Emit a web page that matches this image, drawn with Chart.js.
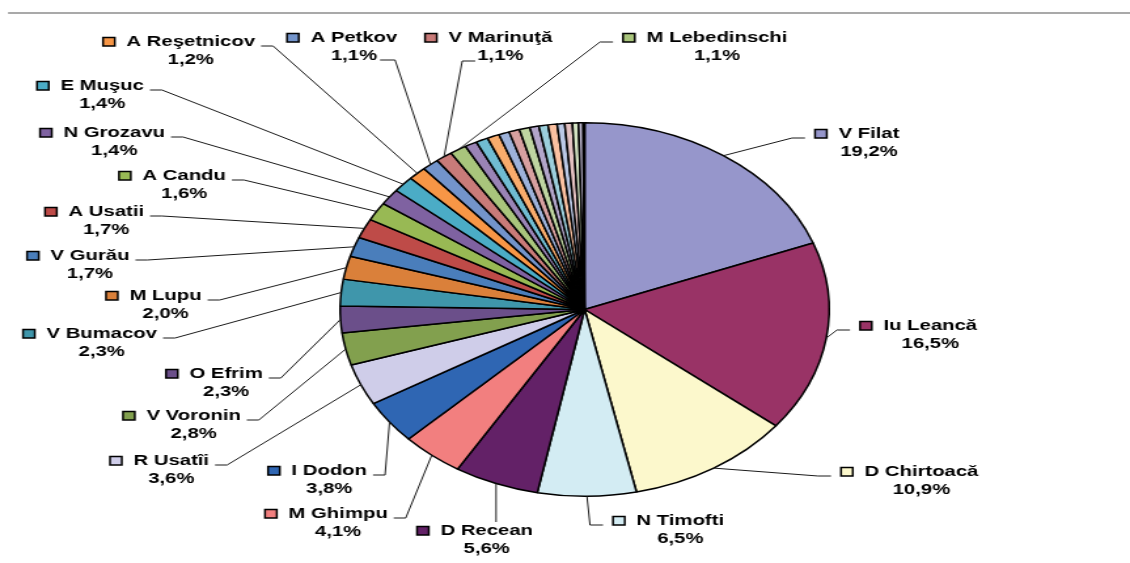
<!DOCTYPE html>
<html>
<head>
<meta charset="utf-8">
<script src="https://cdn.jsdelivr.net/npm/chart.js@4.4.0/dist/chart.umd.min.js"></script>
<style>
  html, body { margin: 0; padding: 0; background: #fff; overflow: hidden; }
  /* the chart is drawn narrow and stretched sideways, so the pie comes out oval */
  #wrap { width: 863px; height: 563px; transform: scaleX(1.30939); transform-origin: 0 0; }
</style>
</head>
<body>
<div id="wrap"><canvas id="grafic" width="863" height="563"></canvas></div>
<script>
// ============================
// DATE
// ============================
const candidati = [
  "V Filat", "Iu Leancă", "D Chirtoacă", "N Timofti", "D Recean", "M Ghimpu",
  "I Dodon", "R Usatîi", "V Voronin", "O Efrim", "V Bumacov", "M Lupu",
  "V Gurău", "A Usatii", "A Candu", "N Grozavu", "E Muşuc", "A Reşetnicov",
  "A Petkov", "V Marinuţă", "M Lebedinschi",
  "", "", "", "", "", "", "", "", "", "", "", "", "", ""
];
const procente = [
  19.2, 16.5, 10.9, 6.5, 5.6, 4.1,
  3.8, 3.6, 2.8, 2.3, 2.3, 2.0,
  1.7, 1.7, 1.6, 1.4, 1.4, 1.2,
  1.1, 1.1, 1.1,
  0.8, 0.8, 0.8, 0.7, 0.7, 0.7, 0.6, 0.6, 0.6, 0.5, 0.5, 0.4, 0.3, 0.1
];
const culori = [
  "#9696CB", "#993366", "#FCF8CC", "#D3ECF3", "#632167", "#F27F7F",
  "#2F66B3", "#CFCDE9", "#82A04E", "#6B4F8A", "#3F96AB", "#DA803A",
  "#4A7EBB", "#BE4B48", "#98B954", "#7F62A1", "#4BACC6", "#F79646",
  "#7394CB", "#C97B79", "#A9C57C",
  "#9A84B6", "#70BCD2", "#F9AC6C", "#9DB2DA", "#D7A0A0", "#BFD5A1", "#B3A6CA",
  "#9CCFDC", "#FBC1A1", "#BBC9E6", "#E5C2C2", "#D4E4C3", "#C9C2DB", "#A0A0A0"
];

// pozitia etichetelor (pe pagina): stanga patratelului, mijlocul primului rand, tipul legaturii
const pozitii = [
  [815, 134, "R"], [860, 326, "R"], [841, 472, "R"], [613, 521, "R"],
  [417, 531, "T"], [265, 514, "L"], [268, 471, "L"], [110, 461, "L"],
  [123, 416, "L"], [166, 374, "L"], [23, 334, "L"], [106, 296, "L"],
  [27, 256, "L"], [45, 212, "L"], [119, 176, "L"], [40, 133, "L"],
  [37, 86, "L"], [103, 42, "L"], [287, 38, "Lp"], [425, 38, "Rp"],
  [623, 38, "R"]
];

const S = 1130 / 863;
const FONT = "bold 15.5px 'Liberation Sans', Arial, sans-serif";

function fmt(v) {
  return v.toFixed(1).replace(".", ",") + "%";
}

// ============================
// ETICHETE CU LINII
// ============================
const etichete = {
  id: "etichete",
  beforeDraw(chart) {
    const ctx = chart.ctx;
    ctx.save();
    ctx.strokeStyle = "#8c8c8c";
    ctx.lineWidth = 1.5;
    ctx.beginPath();
    ctx.moveTo(8 / S, 13);
    ctx.lineTo(chart.width, 13);
    ctx.stroke();
    ctx.restore();
  },
  afterDatasetsDraw(chart) {
    const ctx = chart.ctx;
    const meta = chart.getDatasetMeta(0);
    ctx.save();
    ctx.font = FONT;
    ctx.textBaseline = "middle";
    ctx.textAlign = "left";

    pozitii.forEach((p, i) => {
      const [px, py, tip] = p;
      const arc = meta.data[i];
      const { x, y, startAngle, endAngle, outerRadius } =
        arc.getProps(["x", "y", "startAngle", "endAngle", "outerRadius"], true);
      const mid = (startAngle + endAngle) / 2;
      const ex = x + Math.cos(mid) * outerRadius;
      const ey = y + Math.sin(mid) * outerRadius;

      const sx = px / S;
      const tx = sx + 23.5 / S;
      const nume = candidati[i];
      const proc = fmt(procente[i]);
      const tw = ctx.measureText(nume).width;
      const pw = ctx.measureText(proc).width;
      const cx = tx + tw / 2;

      // linia de legatura
      ctx.strokeStyle = "#1a1a1a";
      ctx.lineWidth = 1;
      ctx.beginPath();
      if (tip === "R") {
        const h1 = sx - 10 / S, h0 = h1 - 13 / S, hy = py + 4;
        ctx.moveTo(ex, ey); ctx.lineTo(h0, hy); ctx.lineTo(h1, hy);
      } else if (tip === "L") {
        const h0 = tx + tw + 6 / S, h1 = h0 + 12 / S, hy = py + 4;
        ctx.moveTo(h0, hy); ctx.lineTo(h1, hy); ctx.lineTo(ex, ey);
      } else if (tip === "Lp") {
        const h0 = cx + pw / 2 + 3 / S, h1 = h0 + 15 / S, hy = py + 22;
        ctx.moveTo(h0, hy); ctx.lineTo(h1, hy); ctx.lineTo(ex, ey);
      } else if (tip === "Rp") {
        const h1 = cx - pw / 2 - 2 / S, h0 = h1 - 13 / S, hy = py + 23;
        ctx.moveTo(ex, ey); ctx.lineTo(h0, hy); ctx.lineTo(h1, hy);
      } else {
        ctx.moveTo(ex, ey); ctx.lineTo(ex, py - 9);
      }
      ctx.stroke();

      // patratelul cu culoarea feliei
      ctx.fillStyle = culori[i];
      ctx.fillRect(sx, py - 4.5, 9, 8.5);
      ctx.strokeStyle = "#000";
      ctx.lineWidth = 1.5;
      ctx.strokeRect(sx, py - 4.5, 9, 8.5);

      // textul
      ctx.fillStyle = "#000";
      ctx.fillText(nume, tx, py);
      ctx.textAlign = "center";
      ctx.fillText(proc, cx, py + 18);
      ctx.textAlign = "left";
    });
    ctx.restore();
  }
};

// ============================
// GRAFIC
// ============================
new Chart(document.getElementById("grafic"), {
  type: "pie",
  data: {
    labels: candidati,
    datasets: [{
      data: procente,
      backgroundColor: culori,
      borderColor: "#000",
      borderWidth: 1.5
    }]
  },
  options: {
    responsive: false,
    devicePixelRatio: 1,
    animation: false,
    events: [],
    layout: { padding: { left: 259, right: 229, top: 122, bottom: 66 } },
    plugins: {
      legend: { display: false },
      tooltip: { enabled: false }
    }
  },
  plugins: [etichete]
});
</script>
</body>
</html>
